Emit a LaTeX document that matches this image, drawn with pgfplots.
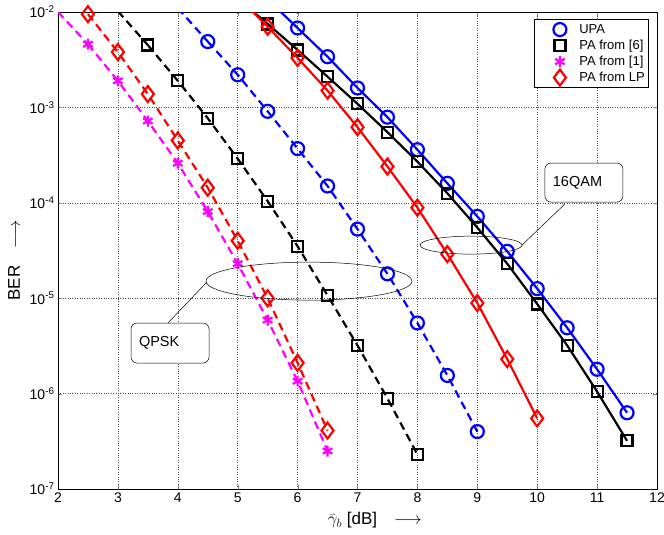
\documentclass[border=0pt]{standalone}
\usepackage{fontspec}
\setmainfont{Liberation Sans}
\usepackage{pgfplots}
\pgfplotsset{compat=1.18}
\definecolor{mag}{RGB}{255,0,255}
\definecolor{bl}{RGB}{0,0,255}
\definecolor{rd}{RGB}{255,0,0}

\begin{document}
\begin{tikzpicture}
\useasboundingbox (-58pt,-46pt) rectangle (606pt,489pt);
\begin{axis}[
    scale only axis,
    width=599pt, height=477pt,
    ymode=log, log basis y=10,
    xmin=2, xmax=12, ymin=1e-7, ymax=1e-2,
    xtick={2,...,12},
    ytick={1e-7,1e-6,1e-5,1e-4,1e-3,1e-2},
    yticklabel={10\textsuperscript{\pgfmathprintnumber{\tick}}},
    /pgf/number format/assume math mode=true,
    tick label style={font=\fontsize{14}{16}\selectfont},
    grid=both,
    major grid style={dotted, black!70, line width=0.5pt},
    minor grid style={dotted, black!70, line width=0.5pt},
    axis line style={line width=0.8pt},
    clip mode=individual,
    xlabel={$\bar{\gamma}_b$ [dB]\quad$\longrightarrow$},
    xlabel style={at={(axis description cs:0.529,-0.066)}, anchor=center, font=\fontsize{17}{19}\selectfont},
    ylabel={BER\quad$\longrightarrow$},
    ylabel style={at={(axis description cs:-0.0735,0.479)}, anchor=center, font=\fontsize{17}{19}\selectfont},
    every axis plot/.append style={line width=2.2pt, mark options={solid}},
    legend image code/.code={\path (0pt,0pt) (39pt,0pt); \draw[#1] plot coordinates {(22.7pt,0pt)};},
    legend style={at={(axis description cs:0.987,0.985)}, anchor=north east,
        font=\fontsize{13}{15}\selectfont, inner sep=2pt, draw=black, line width=0.8pt,
        nodes={text height=10pt, text depth=3pt, inner ysep=1.5pt}},
    legend cell align=left,
]
\addlegendimage{bl, mark=o, mark size=6.5pt, line width=2.2pt}
\addlegendentry{UPA}
\addlegendimage{black, mark=square, mark size=5.5pt, line width=2.2pt}
\addlegendentry{PA from [6]}
\addlegendimage{mag, mark=asterisk, mark size=5.5pt, line width=2.2pt}
\addlegendentry{PA from [1]}
\addlegendimage{rd, mark=diamond, mark size=8pt, line width=2.2pt}
\addlegendentry{PA from LP}

% QPSK (dashed); segments above the axis top are drawn without marks
\addplot[forget plot, mag, dash pattern=on 8pt off 5pt, no marks] coordinates {(2,1.0e-2) (2.5,4.6e-3)};
\addplot[forget plot, mag, dash pattern=on 8pt off 5pt, mark=asterisk, mark size=5.5pt] coordinates {
  (2.5,4.6e-3) (3,1.9e-3) (3.5,7.2e-4) (4,2.6e-4) (4.5,8.1e-5)
  (5,2.3e-5) (5.5,5.9e-6) (6,1.35e-6) (6.5,2.5e-7)
};
\addplot[forget plot, rd, dash pattern=on 8pt off 5pt, mark=diamond, mark size=8pt] coordinates {
  (2.5,9.5e-3) (3,3.8e-3) (3.5,1.38e-3) (4,4.5e-4) (4.5,1.44e-4) (5,4.0e-5)
  (5.5,1.0e-5) (6,2.1e-6) (6.5,4.1e-7)
};
\addplot[forget plot, black, dash pattern=on 8pt off 5pt, no marks] coordinates {(3,1.02e-2) (3.5,4.5e-3)};
\addplot[forget plot, black, dash pattern=on 8pt off 5pt, mark=square, mark size=5.5pt] coordinates {
  (3.5,4.5e-3) (4,1.9e-3) (4.5,7.7e-4) (5,2.9e-4) (5.5,1.04e-4)
  (6,3.5e-5) (6.5,1.07e-5) (7,3.2e-6) (7.5,8.9e-7) (8,2.3e-7)
};
\addplot[forget plot, bl, dash pattern=on 8pt off 5pt, no marks] coordinates {(4,1.1e-2) (4.5,4.9e-3)};
\addplot[forget plot, bl, dash pattern=on 8pt off 5pt, mark=o, mark size=6.5pt] coordinates {
  (4.5,4.9e-3) (5,2.2e-3) (5.5,9.1e-4) (6,3.7e-4) (6.5,1.5e-4)
  (7,5.3e-5) (7.5,1.8e-5) (8,5.5e-6) (8.5,1.55e-6) (9,4.0e-7)
};

% 16QAM (solid)
\addplot[forget plot, bl, solid, no marks] coordinates {(5.5,1.35e-2) (6,6.8e-3)};
\addplot[forget plot, bl, solid, mark=o, mark size=6.5pt] coordinates {
  (6,6.8e-3) (6.5,3.4e-3) (7,1.6e-3) (7.5,7.9e-4) (8,3.6e-4)
  (8.5,1.6e-4) (9,7.2e-5) (9.5,3.1e-5) (10,1.26e-5) (10.5,4.9e-6) (11,1.8e-6) (11.5,6.3e-7)
};
\addplot[forget plot, black, solid, no marks] coordinates {(5,1.38e-2) (5.5,7.5e-3)};
\addplot[forget plot, black, solid, mark=square, mark size=5.5pt] coordinates {
  (5.5,7.5e-3) (6,4.0e-3) (6.5,2.1e-3) (7,1.09e-3) (7.5,5.5e-4)
  (8,2.7e-4) (8.5,1.26e-4) (9,5.5e-5) (9.5,2.3e-5) (10,8.7e-6) (10.5,3.2e-6)
  (11,1.05e-6) (11.5,3.2e-7)
};
\addplot[forget plot, rd, solid, no marks] coordinates {(5,1.45e-2) (5.5,7.0e-3)};
\addplot[forget plot, rd, solid, mark=diamond, mark size=8pt] coordinates {
  (5.5,7.0e-3) (6,3.3e-3) (6.5,1.5e-3) (7,6.2e-4) (7.5,2.4e-4)
  (8,8.9e-5) (8.5,2.9e-5) (9,8.9e-6) (9.5,2.3e-6) (10,5.5e-7)
};

% annotations
\draw[line width=0.5pt] (axis cs:8.895,3.6e-5) ellipse [x radius=51pt, y radius=9pt];
\draw[line width=0.5pt] (axis cs:9.746,3.6e-5) -- (axis cs:10.46,9.7e-5);
\node[draw, fill=white, line width=0.5pt, rounded corners=6pt, minimum width=78pt, minimum height=39pt,
      text width=62pt, align=left, font=\fontsize{14.5}{16}\selectfont] at (axis cs:10.78,1.63e-4) {16QAM};
\draw[line width=0.5pt] (axis cs:6.19,1.51e-5) ellipse [x radius=103pt, y radius=19pt];
\draw[line width=0.5pt] (axis cs:4.487,1.48e-5) -- (axis cs:3.836,5.5e-6);
\node[draw, fill=white, line width=0.5pt, rounded corners=6pt, minimum width=78pt, minimum height=40pt,
      text width=62pt, align=left, font=\fontsize{14.5}{16}\selectfont] at (axis cs:3.87,3.39e-6) {QPSK};
\end{axis}
\end{tikzpicture}
\end{document}
